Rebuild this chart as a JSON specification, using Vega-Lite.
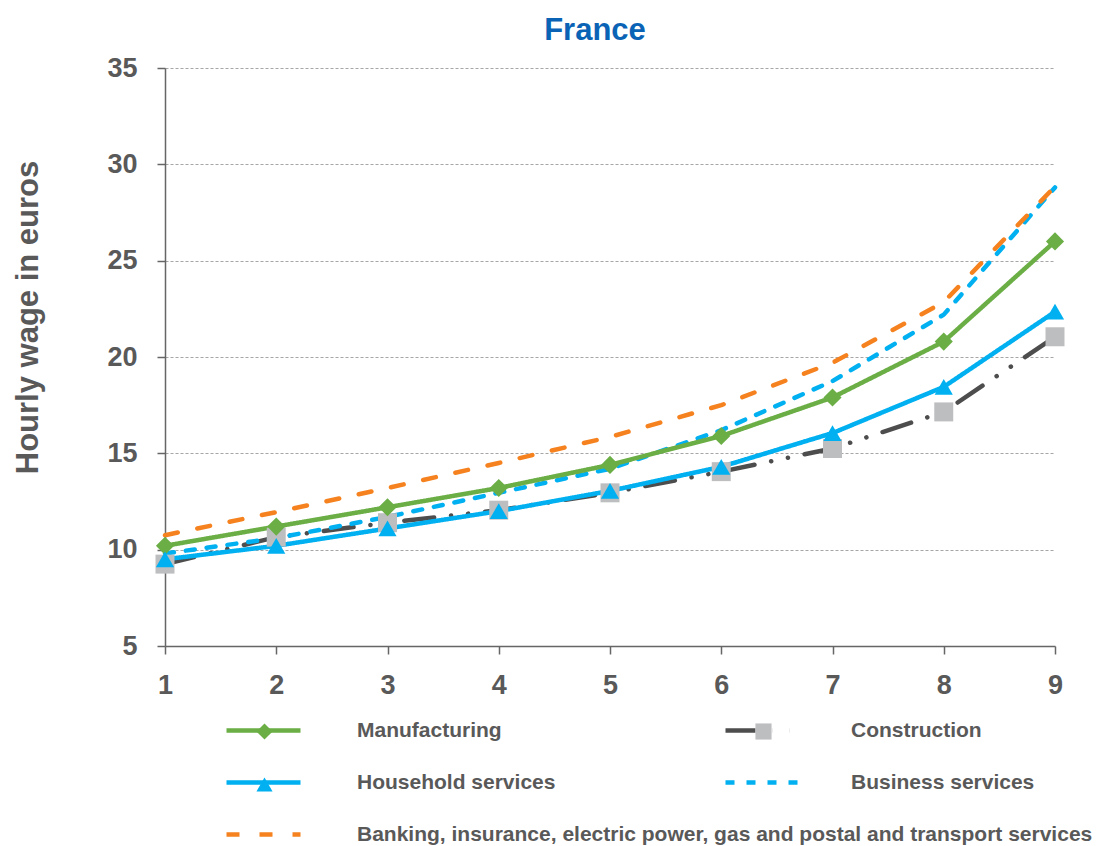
{
  "$schema": "https://vega.github.io/schema/vega-lite/v6.json",
  "width": 890,
  "height": 578,
  "autosize": {"type": "none"},
  "padding": {"left": 165, "top": 68, "right": 51, "bottom": 200},
  "background": "white",
  "title": {
    "text": "France",
    "color": "#0B63B6",
    "font": "Liberation Sans",
    "fontSize": 31,
    "fontWeight": "bold",
    "anchor": "middle",
    "dx": -15,
    "offset": 7
  },
  "config": {
    "view": {"stroke": null},
    "font": "Liberation Sans",
    "legend": {
      "labelFont": "Liberation Sans",
      "labelFontSize": 21,
      "labelFontWeight": "bold",
      "labelColor": "#595959",
      "labelLimit": 0,
      "title": null,
      "orient": "none",
      "direction": "vertical",
      "padding": 0
    }
  },
  "data": {
    "values": [
      {"series": "Manufacturing", "x": 1, "y": 10.2},
      {"series": "Manufacturing", "x": 2, "y": 11.2},
      {"series": "Manufacturing", "x": 3, "y": 12.2},
      {"series": "Manufacturing", "x": 4, "y": 13.2},
      {"series": "Manufacturing", "x": 5, "y": 14.4},
      {"series": "Manufacturing", "x": 6, "y": 15.9},
      {"series": "Manufacturing", "x": 7, "y": 17.9},
      {"series": "Manufacturing", "x": 8, "y": 20.8},
      {"series": "Manufacturing", "x": 9, "y": 26.0},
      {"series": "Household services", "x": 1, "y": 9.5},
      {"series": "Household services", "x": 2, "y": 10.2},
      {"series": "Household services", "x": 3, "y": 11.1},
      {"series": "Household services", "x": 4, "y": 12.0},
      {"series": "Household services", "x": 5, "y": 13.05},
      {"series": "Household services", "x": 6, "y": 14.3},
      {"series": "Household services", "x": 7, "y": 16.05},
      {"series": "Household services", "x": 8, "y": 18.45},
      {"series": "Household services", "x": 9, "y": 22.35},
      {"series": "Construction", "x": 1, "y": 9.25},
      {"series": "Construction", "x": 2, "y": 10.65},
      {"series": "Construction", "x": 3, "y": 11.4},
      {"series": "Construction", "x": 4, "y": 12.05},
      {"series": "Construction", "x": 5, "y": 12.95},
      {"series": "Construction", "x": 6, "y": 14.05},
      {"series": "Construction", "x": 7, "y": 15.25},
      {"series": "Construction", "x": 8, "y": 17.15},
      {"series": "Construction", "x": 9, "y": 21.05},
      {"series": "Business services", "x": 1, "y": 9.8},
      {"series": "Business services", "x": 2, "y": 10.6},
      {"series": "Business services", "x": 3, "y": 11.7},
      {"series": "Business services", "x": 4, "y": 12.95},
      {"series": "Business services", "x": 5, "y": 14.2},
      {"series": "Business services", "x": 6, "y": 16.2},
      {"series": "Business services", "x": 7, "y": 18.75},
      {"series": "Business services", "x": 8, "y": 22.2},
      {"series": "Business services", "x": 9, "y": 28.8},
      {"series": "Banking, insurance, electric power, gas and postal and transport services", "x": 1, "y": 10.75},
      {"series": "Banking, insurance, electric power, gas and postal and transport services", "x": 2, "y": 11.95},
      {"series": "Banking, insurance, electric power, gas and postal and transport services", "x": 3, "y": 13.2},
      {"series": "Banking, insurance, electric power, gas and postal and transport services", "x": 4, "y": 14.5},
      {"series": "Banking, insurance, electric power, gas and postal and transport services", "x": 5, "y": 15.85},
      {"series": "Banking, insurance, electric power, gas and postal and transport services", "x": 6, "y": 17.5},
      {"series": "Banking, insurance, electric power, gas and postal and transport services", "x": 7, "y": 19.7},
      {"series": "Banking, insurance, electric power, gas and postal and transport services", "x": 8, "y": 22.85},
      {"series": "Banking, insurance, electric power, gas and postal and transport services", "x": 9, "y": 28.85}
    ]
  },
  "encoding": {
    "x": {
      "field": "x",
      "type": "quantitative",
      "scale": {"domain": [1, 9], "nice": false, "zero": false},
      "axis": {
        "title": null,
        "values": [1, 2, 3, 4, 5, 6, 7, 8, 9],
        "grid": false,
        "labelFlush": false,
        "domainColor": "#666666",
        "domainWidth": 1.5,
        "tickColor": "#666666",
        "tickWidth": 1.5,
        "tickSize": 8,
        "labelFont": "Liberation Sans",
        "labelFontSize": 27,
        "labelFontWeight": "bold",
        "labelColor": "#595959",
        "labelPadding": 18
      }
    },
    "y": {
      "field": "y",
      "type": "quantitative",
      "scale": {"domain": [5, 35], "nice": false, "zero": false},
      "axis": {
        "title": "Hourly wage in euros",
        "titleFont": "Liberation Sans",
        "titleFontSize": 31,
        "titleFontWeight": "bold",
        "titleColor": "#595959",
        "titleX": -128,
        "titleY": 249,
        "titleBaseline": "alphabetic",
        "titleAlign": "center",
        "values": [5, 10, 15, 20, 25, 30, 35],
        "grid": true,
        "gridColor": "#A6A6A6",
        "gridDash": [3, 2],
        "gridWidth": 1,
        "domainColor": "#666666",
        "domainWidth": 1.5,
        "tickColor": "#666666",
        "tickWidth": 1.5,
        "tickSize": 8,
        "labelFont": "Liberation Sans",
        "labelFontSize": 27,
        "labelFontWeight": "bold",
        "labelColor": "#595959",
        "labelPadding": 20
      }
    }
  },
  "layer": [
    {
      "transform": [{"filter": {"field": "series", "oneOf": ["Construction", "Business services"]}}],
      "mark": {"type": "line", "strokeWidth": 4.5, "strokeCap": "round", "strokeJoin": "round"},
      "encoding": {
        "color": {
          "field": "series",
          "type": "nominal",
          "scale": {"domain": ["Construction", "Business services"], "range": ["#4D4D4D", "#00B0F0"]},
          "legend": {
            "legendX": 558,
            "legendY": 623,
            "symbolType": "stroke",
            "symbolSize": 5476,
            "symbolStrokeWidth": 4.5,
            "labelOffset": 49,
            "rowPadding": 2
          }
        },
        "strokeDash": {
          "field": "series",
          "type": "nominal",
          "scale": {"domain": ["Construction", "Business services"], "range": [[30, 17, 0.1, 17, 0.1, 17], [9, 12]]}
        }
      }
    },
    {
      "transform": [{"filter": {"field": "series", "oneOf": ["Manufacturing", "Household services", "Banking, insurance, electric power, gas and postal and transport services"]}}],
      "mark": {"type": "line", "strokeWidth": 4.5, "strokeCap": "round", "strokeJoin": "round"},
      "encoding": {
        "color": {
          "field": "series",
          "type": "nominal",
          "scale": {"domain": ["Manufacturing", "Household services", "Banking, insurance, electric power, gas and postal and transport services"], "range": ["#6AAE45", "#00B0F0", "#F5821F"]},
          "legend": {
            "legendX": 59,
            "legendY": 623,
            "symbolType": "stroke",
            "symbolSize": 5476,
            "symbolStrokeWidth": 4.5,
            "labelOffset": 54,
            "rowPadding": 2
          }
        },
        "strokeDash": {
          "field": "series",
          "type": "nominal",
          "scale": {"domain": ["Manufacturing", "Household services", "Banking, insurance, electric power, gas and postal and transport services"], "range": [[1, 0], [1, 0], [13, 20]]}
        }
      }
    },
    {
      "transform": [{"filter": {"field": "series", "equal": "Construction"}}],
      "mark": {"type": "point", "filled": true, "opacity": 1, "size": 360},
      "encoding": {
        "color": {
          "field": "series",
          "type": "nominal",
          "scale": {"domain": ["Construction"], "range": ["#BDBEC0"]},
          "legend": {
            "legendX": 588,
            "legendY": 653,
            "symbolSize": 260,
            "symbolOpacity": 1,
            "labelExpr": "''",
            "labelOffset": 0,
            "rowPadding": 36
          }
        },
        "shape": {
          "field": "series",
          "type": "nominal",
          "scale": {"domain": ["Construction"], "range": ["square"]}
        }
      }
    },
    {
      "transform": [{"filter": {"field": "series", "oneOf": ["Manufacturing", "Household services"]}}],
      "mark": {"type": "point", "filled": true, "opacity": 1, "size": 330},
      "encoding": {
        "color": {
          "field": "series",
          "type": "nominal",
          "scale": {"domain": ["Manufacturing", "Household services"], "range": ["#6AAE45", "#00B0F0"]},
          "legend": {
            "legendX": 89,
            "legendY": 653,
            "symbolSize": 260,
            "symbolOpacity": 1,
            "symbolStrokeColor": "#4472C4",
            "symbolStrokeWidth": 1.2,
            "labelExpr": "''",
            "labelOffset": 0,
            "rowPadding": 31
          }
        },
        "shape": {
          "field": "series",
          "type": "nominal",
          "scale": {"domain": ["Manufacturing", "Household services"], "range": ["diamond", "triangle-up"]}
        }
      }
    }
  ],
  "resolve": {
    "scale": {"color": "independent", "strokeDash": "independent", "shape": "independent"},
    "legend": {"color": "independent", "strokeDash": "independent", "shape": "independent"}
  }
}
